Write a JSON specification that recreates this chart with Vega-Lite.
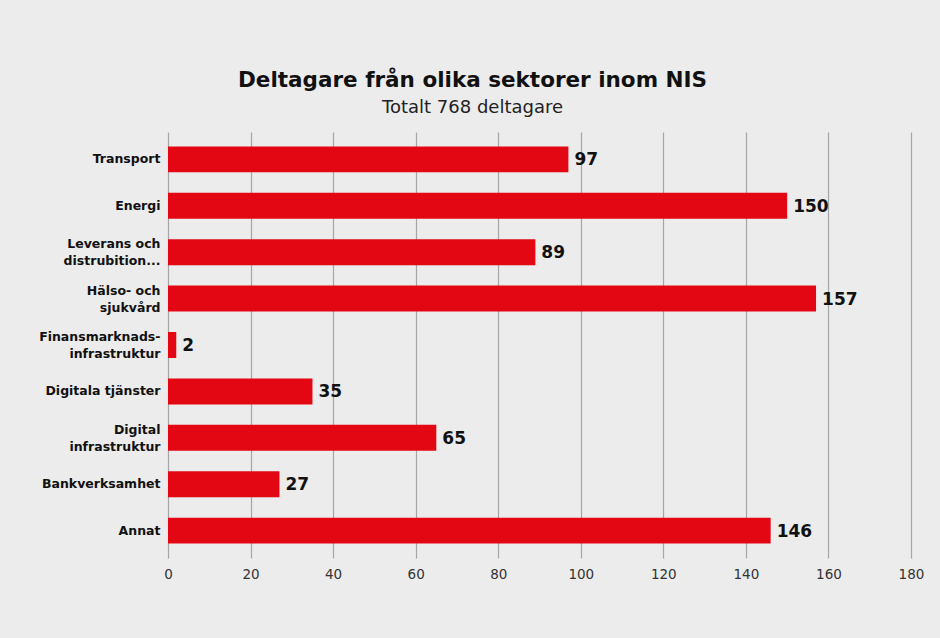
{
  "$schema": "https://vega.github.io/schema/vega-lite/v6.json",
  "autosize": {"type": "none"},
  "width": 743,
  "height": 426,
  "padding": {"left": 168, "top": 132, "right": 29, "bottom": 80},
  "background": "#ececec",
  "title": {
    "text": "Deltagare från olika sektorer inom NIS",
    "subtitle": "Totalt 768 deltagare",
    "anchor": "middle",
    "dx": -67,
    "offset": 15,
    "font": "DejaVu Sans",
    "fontSize": 21.5,
    "fontWeight": "bold",
    "color": "#111111",
    "subtitleFont": "DejaVu Sans",
    "subtitleFontSize": 18,
    "subtitleColor": "#222222",
    "subtitlePadding": 8
  },
  "data": {
    "values": [
      {"sektor": "Transport", "antal": 97},
      {"sektor": "Energi", "antal": 150},
      {"sektor": "Leverans och\ndistrubition...", "antal": 89},
      {"sektor": "Hälso- och\nsjukvård", "antal": 157},
      {"sektor": "Finansmarknads-\ninfrastruktur", "antal": 2},
      {"sektor": "Digitala tjänster", "antal": 35},
      {"sektor": "Digital\ninfrastruktur", "antal": 65},
      {"sektor": "Bankverksamhet", "antal": 27},
      {"sektor": "Annat", "antal": 146}
    ]
  },
  "encoding": {
    "y": {
      "field": "sektor",
      "type": "nominal",
      "sort": null,
      "scale": {"paddingInner": 0.44, "paddingOuter": 0.31},
      "axis": {
        "title": null,
        "domain": false,
        "ticks": false,
        "labelPadding": 8,
        "labelFont": "DejaVu Sans",
        "labelFontSize": 12.5,
        "labelFontWeight": "bold",
        "labelColor": "#111111",
        "labelLimit": 200,
        "labelLineHeight": 17,
        "labelOffset": {"condition": {"test": "indexof(datum.value, '\\n') >= 0", "value": -8}, "value": 0},
        "labelExpr": "split(datum.value, '\\n')"
      }
    },
    "x": {
      "field": "antal",
      "type": "quantitative",
      "scale": {"domain": [0, 180], "nice": false},
      "axis": {
        "title": null,
        "values": [0, 20, 40, 60, 80, 100, 120, 140, 160, 180],
        "domain": false,
        "ticks": false,
        "grid": true,
        "gridColor": "#a6a6a6",
        "gridWidth": 1.2,
        "labelFlush": false,
        "labelPadding": 9,
        "labelFont": "DejaVu Sans",
        "labelFontSize": 13.5,
        "labelColor": "#333333"
      }
    }
  },
  "layer": [
    {"mark": {"type": "bar", "color": "#e30613"}},
    {
      "mark": {
        "type": "text",
        "align": "left",
        "baseline": "middle",
        "dx": 6,
        "dy": 1,
        "font": "DejaVu Sans",
        "fontSize": 17,
        "fontWeight": "bold",
        "color": "#111111"
      },
      "encoding": {"text": {"field": "antal", "type": "quantitative"}}
    }
  ],
  "config": {"view": {"stroke": null}}
}
